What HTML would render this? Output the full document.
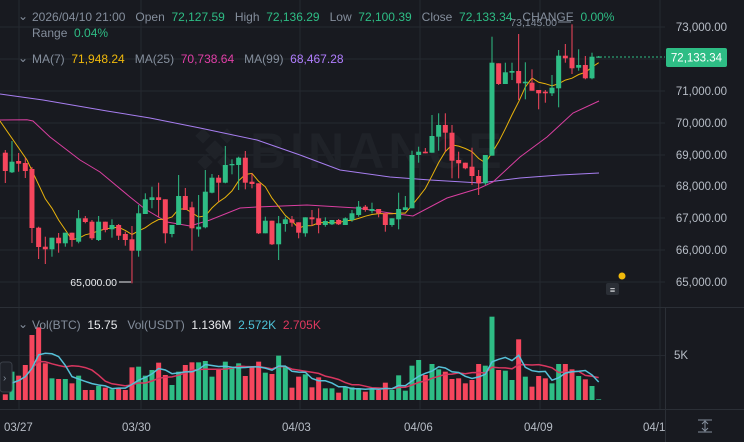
<!DOCTYPE html>
<html><head><meta charset="utf-8"><style>
html,body{margin:0;padding:0;background:#181a20;}
body{width:744px;height:442px;overflow:hidden;position:relative;font-family:"Liberation Sans",sans-serif;}
svg{position:absolute;left:0;top:0}
.t{position:absolute;font-size:12px;white-space:nowrap;color:#848e9c}
.g{color:#2ebd85}.w{color:#eaecef}
</style></head><body>
<svg id="s" width="744" height="442" xmlns="http://www.w3.org/2000/svg"></svg>
<div class="t" style="left:18px;top:9px">&#8964;</div>
<div class="t" style="left:32px;top:10px">2026/04/10 21:00&nbsp;&nbsp; Open&nbsp;&nbsp;<span class="g">72,127.59</span>&nbsp;&nbsp; High&nbsp;&nbsp;<span class="g">72,136.29</span>&nbsp;&nbsp; Low&nbsp;&nbsp;<span class="g">72,100.39</span>&nbsp;&nbsp; Close&nbsp;&nbsp;<span class="g">72,133.34</span>&nbsp;&nbsp; CHANGE&nbsp;&nbsp;<span class="g">0.00%</span></div>
<div class="t" style="left:32px;top:26px">Range&nbsp;&nbsp;<span class="g">0.04%</span></div>
<div class="t" style="left:18px;top:51px">&#8964;</div>
<div class="t" style="left:32px;top:52px">MA(7)&nbsp;&nbsp;<span style="color:#f0b90b">71,948.24</span>&nbsp;&nbsp; MA(25)&nbsp;&nbsp;<span style="color:#e13fa7">70,738.64</span>&nbsp;&nbsp; MA(99)&nbsp;&nbsp;<span style="color:#b17eff">68,467.28</span></div>
<div class="t" style="left:18px;top:317px">&#8964;</div>
<div class="t" style="left:32px;top:318px">Vol(BTC)&nbsp;&nbsp;<span class="w">15.75</span>&nbsp;&nbsp; Vol(USDT)&nbsp;&nbsp;<span class="w">1.136M</span>&nbsp;&nbsp;<span style="color:#4fc3d9">2.572K</span>&nbsp;&nbsp;<span style="color:#e0385f">2.705K</span></div>
<script>
var s=document.getElementById('s'),h='';
function L(x1,y1,x2,y2,c,w){h+='<line x1="'+x1+'" y1="'+y1+'" x2="'+x2+'" y2="'+y2+'" stroke="'+c+'" stroke-width="'+(w||1)+'"/>';}
function T(x,y,t,c,sz,a){h+='<text x="'+x+'" y="'+y+'" fill="'+c+'" font-size="'+(sz||11.5)+'" font-family="Liberation Sans, sans-serif" text-anchor="'+(a||'start')+'">'+t+'</text>';}
var gc='#252930';
[27,59,91,123,155,186,218,250,282].forEach(function(y){L(0,y,665,y,gc);});
[19,141,300,420,540,660].forEach(function(x){L(x,0,x,409,gc);});
L(0,355.5,665,355.5,gc);L(0,307.5,744,307.5,'#2b2f36');L(0,409.5,744,409.5,'#2b2f36');L(665.5,307,665.5,442,'#2b2f36');
h+='<text x="250" y="168" fill="#1f2228" font-size="50" font-weight="bold" font-family="Liberation Sans, sans-serif" letter-spacing="4">BINANCE</text>';
h+='<g fill="#1f2228" transform="translate(215,150) rotate(45)"><rect x="-7" y="-7" width="14" height="14"/><rect x="-24" y="-7" width="11" height="11"/><rect x="-7" y="-24" width="11" height="11"/><rect x="10" y="-4" width="11" height="11"/><rect x="-4" y="10" width="11" height="11"/></g>';
var prices=['73,000.00','72,000.00','71,000.00','70,000.00','69,000.00','68,000.00','67,000.00','66,000.00','65,000.00'];
[27,59,91,123,155,186,218,250,282].forEach(function(y,i){if(i!=1)T(727,y+4,prices[i],'#b7bdc6',11.5,'end');});
var C=[[152.7,171,150,183,0],[161.7,172.3,141,173,1],[161,163.7,153,171.7,0],[163,171,158,178,0],[169,228,167,243,0],[227.7,247,226.7,259,0],[246.7,249.3,236.7,264,0],[237.7,249.3,237.7,256.7,1],[237.7,243.3,233,252.7,0],[232.7,243.3,232.7,246.7,1],
[232.7,240,232.7,246.7,0],[218.3,241.7,210,243.3,1],[218.3,222,216,223.3,0],[221.7,238.3,220,240,0],[221.7,240,216,241,1],[221.7,230,221.7,232.3,0],[225,229.3,219.3,237.7,1],[225,235.7,224,240,0],[234,240,231.7,245.7,0],[239.3,250.7,226,283.3,0],
[213.3,250.7,205,256.7,1],[199.3,214,193.3,214,1],[197.3,200,186.7,208.3,1],[197.3,200,182.7,216.7,0],[199.3,233.3,199.3,243.3,0],[225,234,225,237.3,1],[196,225,175,225,1],[196,210,188,210,0],[207.3,228.3,201.7,250.7,0],[226.7,229.3,195,236.7,1],
[191.7,227.3,170,228.3,1],[177.7,192.7,174,193.3,1],[177.7,182.7,175,201.7,0],[165,182.7,146,183.3,1],[164,165.3,159.3,174.3,1],[157.7,165,156.7,190,1],[157.7,182.7,151,189.3,0],[181.7,184,173.3,188.3,0],[183.3,233.3,183.3,234,0],[220.7,233.3,216.7,233.3,1],
[220.7,244.3,220.7,245,0],[223.3,244.3,216,260,1],[219.3,224,216.7,231.7,1],[219.3,222.7,216,226.7,0],[222.3,232.7,222.3,238.3,0],[217.3,233.3,217.3,236.7,1],[217.3,219.3,210,226,0],[218.3,225,208.3,233.3,0],[221,225,217.3,226.7,1],[220,224.3,220,225,1],
[220,224.3,219,225,0],[218.3,225,217.3,225,1],[213.3,220,210,221.7,1],[206.7,215,201,216.7,1],[206.7,210,205,211.7,0],[209,211,202.7,213.3,1],[209,213.3,209,217.3,0],[213.3,225,213.3,231.7,0],[218.3,225,218.3,226.7,1],[209,219.3,192.7,229.3,1],
[207.3,210,196,210,1],[155,208.3,150.7,208.3,1],[151.7,155,146.7,162.7,1],[151.7,153.3,148,153.3,0],[136,152.7,115,152.7,1],[125,136.7,113.3,150.7,1],[125,132.7,113.3,151.7,0],[132.7,160.7,125,178.3,0],[160,163.3,151.7,178.3,0],[162.7,168.3,162.7,169.3,0],
[166.7,176,147.7,185,0],[176,183.3,170,195,0],[155,183.3,155,185,1],[62.7,155.7,36.7,155.7,1],[63.3,84,63.3,85,0],[72.3,84,62.7,84,1],[71,72.7,62.7,80,1],[71,83.3,34,100,0],[81.7,83.3,62.3,99.3,1],[82.7,90.7,69.3,90.7,0],
[90,93.3,90,109.3,0],[91.7,93.3,90,102.7,0],[87.7,93.3,75,96,1],[55.7,88.3,50,107.3,1],[55.7,58.3,44,62.7,0],[57.7,68.3,24.3,74,0],[65,67.7,49.3,70.7,1],[65,78.3,56,79.3,0],[56.7,78.3,52.7,79.3,1],[56.5,57.7,56,57.7,1]];
var V=[283,215,227,195,105,82,190,235,237,237,250,227,270,270,258,263,268,263,270,202,200,227,210,188,225,255,215,195,187,187,183,230,210,185,200,190,228,200,185,218,222,167,200,263,230,223,262,232,265,265,278,260,262,265,275,268,270,248,270,226,272,197,180,225,192,208,215,237,235,250,240,192,197,50,210,212,240,118,230,260,228,235,250,192,192,208,228,238,258,298];
var GR='#2ebd85',RD='#f6465d';
function X(i){return 5.3+6.667*i;}
function P(pts,c,w){h+='<polyline fill="none" stroke="'+c+'" stroke-width="'+(w||1)+'" points="'+pts.map(function(p){return p.join(',')}).join(' ')+'"/>';}
P([[0,94],[43,100],[107,111],[150,118],[200,128],[257,140],[300,155],[340,170],[390,177],[430,180],[480,183],[520,178],[560,175],[599,173]],'#a77ef0');
P([[0,120],[27,119.7],[33,121],[50,137],[80,160],[100,172],[130,197],[145,209],[167,222],[190,226],[210,220],[240,208],[257,207],[307,205],[357,208],[390,213],[413,216],[447,198],[480,188],[493,182],[520,157],[547,137],[573,113],[599,101]],'#d93fa0');
var cl=C.map(function(c){return c[4]?c[0]:c[1];});
var m7=[[0,121],[27,160]];
for(var i=6;i<C.length;i++){var a=0;for(var j=i-6;j<=i;j++)a+=cl[j];m7.push([X(i).toFixed(1),(a/7).toFixed(1)]);}
P(m7,'#e9b30b');
C.forEach(function(c,i){var x=X(i),col=c[4]?GR:RD;L(x,c[2],x,c[3],col);h+='<rect x="'+(x-2.5)+'" y="'+c[0]+'" width="5" height="'+Math.max(1,c[1]-c[0])+'" fill="'+col+'"/>';});
var vh=V.map(function(t){return (300-t)/3;});
V.forEach(function(t,i){var x=X(i);h+='<rect x="'+(x-2.5)+'" y="'+(400-vh[i])+'" width="5" height="'+vh[i]+'" fill="'+(C[i][4]?GR:RD)+'"/>';});
function vm(n){var p=[];for(var i=1;i<vh.length;i++){var k=Math.min(n,i+1),a=0;for(var j=i-k+1;j<=i;j++)a+=vh[j];p.push([X(i).toFixed(1),(400-a/k).toFixed(1)]);}return p;}
P(vm(10),'#d8365f',1.5);P(vm(5),'#56c1d8',1.5);
T(674,359,'5K','#b7bdc6',11.5);
[['03/27',4],['03/30',122],['04/03',282],['04/06',404],['04/09',524],['04/1',643]].forEach(function(d){T(d[1],431,d[0],'#b7bdc6',11.5);});
h+='<line x1="600" y1="57" x2="665" y2="57" stroke="#2ebd85" stroke-dasharray="2,2"/>';
h+='<rect x="666" y="48" width="61" height="19" rx="2" fill="#2ebd85"/>';
T(696.5,61.5,'72,133.34','#ffffff',11.5,'middle');
L(119,282,131,282,'#eaecef');T(117,286,'65,000.00','#eaecef',10.5,'end');
L(558,22,571,22,'#848e9c');T(557,26,'73,145.00','#848e9c',10.5,'end');
h+='<circle cx="622" cy="276" r="3.5" fill="#f0b90b"/>';
h+='<rect x="606" y="283" width="13" height="12" rx="2" fill="#2b2f36"/><text x="612.5" y="293" fill="#eaecef" font-size="9" text-anchor="middle" font-family="Liberation Sans">&#8801;</text>';
h+='<rect x="0" y="362" width="12" height="30" rx="3" fill="#1e2128" stroke="#3a3f47"/><text x="3" y="381" fill="#848e9c" font-size="10" font-family="Liberation Sans">&#8250;</text>';
L(698,420,712,420,'#848e9c');L(698,432,712,432,'#848e9c');L(705,421,705,431,'#848e9c');
h+='<path d="M702,424 L705,421 L708,424 M702,428 L705,431 L708,428" fill="none" stroke="#848e9c"/>';
s.innerHTML=h;
</script>
</body></html>
